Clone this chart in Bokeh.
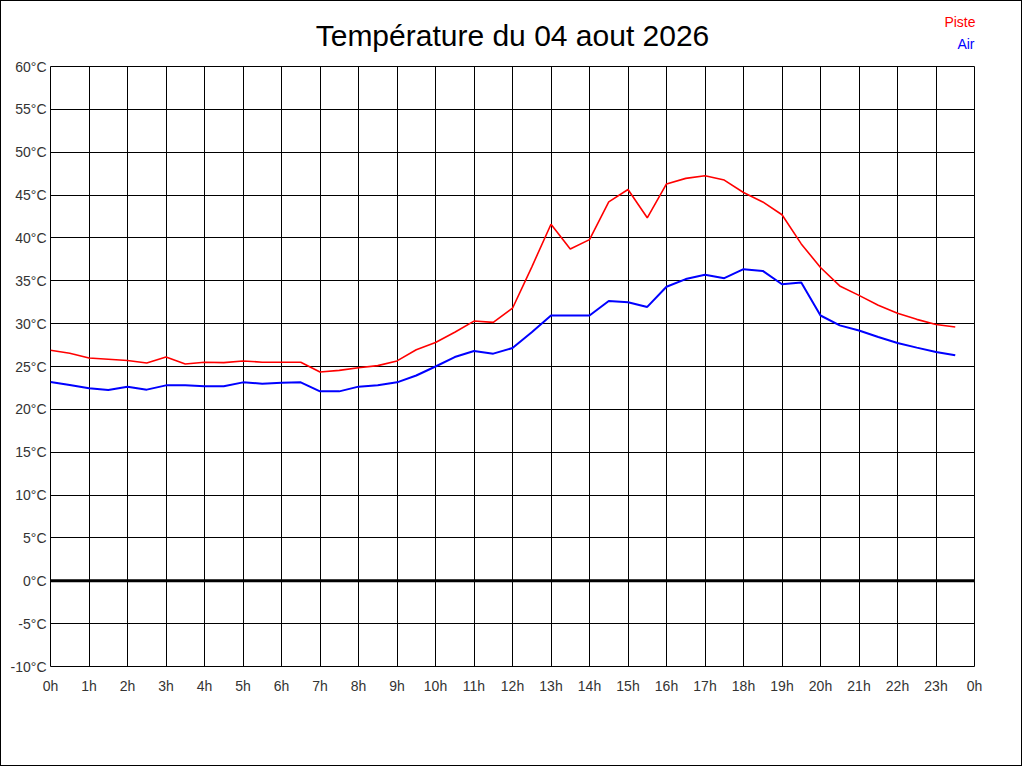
from bokeh.plotting import figure
from bokeh.models import Range1d, FixedTicker, Span, Label
from bokeh.core.properties import value
from bokeh.embed import file_html
from bokeh.resources import INLINE

hours = [0, 0.5, 1, 1.5, 2, 2.5, 3, 3.5, 4, 4.5, 5, 5.5, 6, 6.5, 7, 7.5,
         8, 8.5, 9, 9.5, 10, 10.5, 11, 11.5, 12, 12.5, 13, 13.5, 14, 14.5, 15, 15.5,
         16, 16.5, 17, 17.5, 18, 18.5, 19, 19.5, 20, 20.5, 21, 21.5, 22, 22.5, 23, 23.5]

piste = [26.9, 26.55, 26.0, 25.85, 25.7, 25.4, 26.1, 25.3, 25.5, 25.45, 25.65, 25.5,
         25.5, 25.5, 24.35, 24.55, 24.85, 25.1, 25.65, 26.95, 27.8, 29.0, 30.3, 30.15,
         31.8, 36.6, 41.6, 38.7, 39.8, 44.2, 45.65, 42.35, 46.3, 46.95, 47.25, 46.75,
         45.3, 44.2, 42.7, 39.3, 36.55, 34.4, 33.3, 32.15, 31.2, 30.5, 29.9, 29.6]

air = [23.2, 22.85, 22.45, 22.25, 22.65, 22.3, 22.8, 22.8, 22.7, 22.7, 23.15, 23.0,
       23.1, 23.15, 22.1, 22.1, 22.65, 22.8, 23.15, 23.95, 25.0, 26.1, 26.8, 26.5,
       27.15, 29.0, 30.95, 30.95, 30.95, 32.65, 32.5, 31.95, 34.3, 35.2, 35.7, 35.3,
       36.35, 36.15, 34.6, 34.8, 30.95, 29.8, 29.2, 28.45, 27.75, 27.2, 26.7, 26.3]

x_ticks = list(range(0, 25))
x_labels = ["0h", "1h", "2h", "3h", "4h", "5h", "6h", "7h", "8h", "9h", "10h", "11h",
            "12h", "13h", "14h", "15h", "16h", "17h", "18h", "19h", "20h", "21h",
            "22h", "23h", "0h"]
y_ticks = [-10, -5, 0, 5, 10, 15, 20, 25, 30, 35, 40, 45, 50, 55, 60]
y_labels = ["-10°C", "-5°C", "0°C", "5°C", "10°C", "15°C", "20°C", "25°C", "30°C",
            "35°C", "40°C", "45°C", "50°C", "55°C", "60°C"]

title = "Température du 04 aout 2026"
series_names = ["Piste", "Air"]
series_colors = ["#ff0000", "#0000ff"]

FONT = "Liberation Sans"

p = figure(width=1022, height=766, output_backend="svg", toolbar_location=None,
           x_range=Range1d(0, 24), y_range=Range1d(-10, 60),
           min_border_left=49, min_border_right=49, min_border_top=65,
           min_border_bottom=101)
p.styles = {"border": "1px solid black"}

p.outline_line_color = "black"
p.outline_line_alpha = 1
p.outline_line_width = 1

for ax in (p.xaxis, p.yaxis):
    ax.axis_line_color = None
    ax.major_tick_line_color = None
    ax.minor_tick_line_color = None
    ax.major_tick_out = 0
    ax.major_tick_in = 0
    ax.minor_tick_out = 0
    ax.major_label_text_font = FONT
    ax.major_label_text_font_size = "14px"
    ax.major_label_text_color = "#333333"

p.xaxis.ticker = FixedTicker(ticks=x_ticks)
p.xaxis.major_label_overrides = {t: l for t, l in zip(x_ticks, x_labels)}
p.xaxis.major_label_standoff = 11
p.yaxis.ticker = FixedTicker(ticks=y_ticks)
p.yaxis.major_label_overrides = {t: l for t, l in zip(y_ticks, y_labels)}
p.yaxis.major_label_standoff = 4

p.xgrid.ticker = FixedTicker(ticks=x_ticks)
p.ygrid.ticker = FixedTicker(ticks=y_ticks)
for g in (p.xgrid, p.ygrid):
    g.grid_line_color = "black"
    g.grid_line_alpha = 1
    g.grid_line_width = 1

p.add_layout(Span(location=0, dimension="width", line_color="black", line_width=3))

p.line(hours, piste, line_color=series_colors[0], line_width=1.6)
p.line(hours, air, line_color=series_colors[1], line_width=2)

# title (panel above the frame)
p.add_layout(Label(x=462, y=31, x_units="screen", y_units="screen", text=title,
                   text_align="center", text_baseline="alphabetic",
                   text_font=FONT, text_font_size="30px", text_color="black"), "above")
# legend entries (side panels, unclipped)
p.add_layout(Label(x=1, y=645, x_units="screen", y_units="screen",
                   text=series_names[0], text_align="right", text_baseline="middle",
                   text_font=FONT, text_font_size="14px",
                   text_color=series_colors[0]), "right")
p.add_layout(Label(x=924, y=669, x_units="screen", y_units="screen",
                   text=series_names[1], text_align="right", text_baseline="middle",
                   text_font=FONT, text_font_size="14px",
                   text_color=series_colors[1]), "below")

open("out.html", "w").write(file_html(p, INLINE))
